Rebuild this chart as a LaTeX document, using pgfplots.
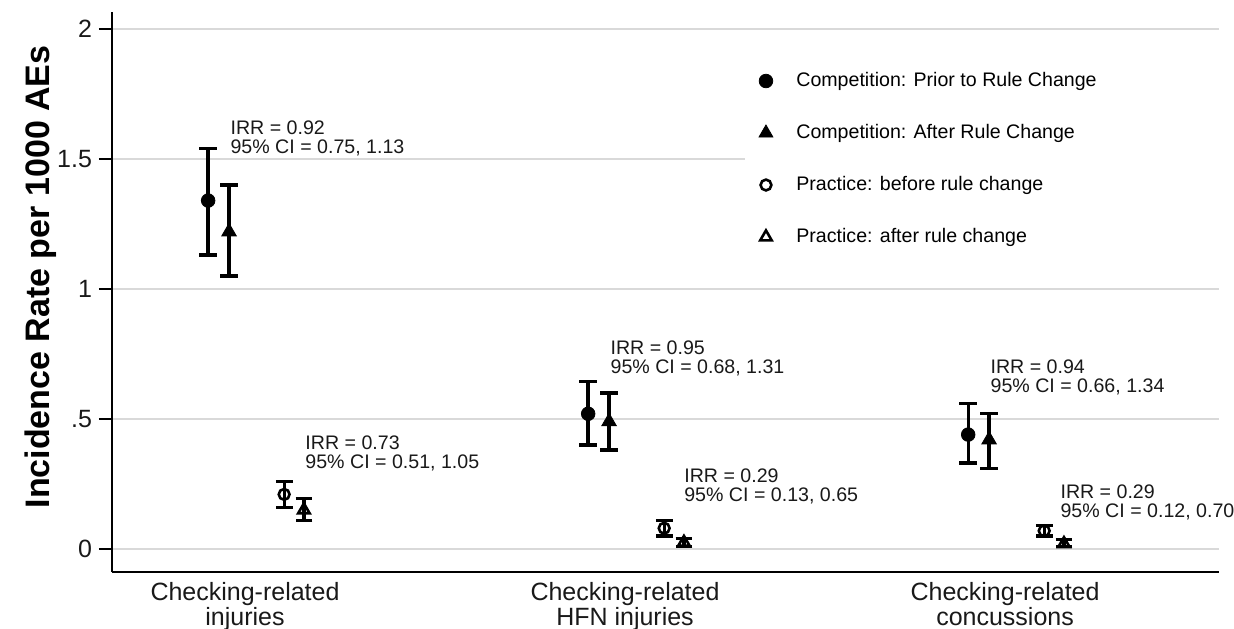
\documentclass[border=0pt]{standalone}
\usepackage{pgfplots}
\pgfplotsset{compat=1.18}
\usepackage{pgfplotstable}
\usepackage{fontspec}
\setmainfont{Liberation Sans}

\pgfplotstableread{
x y lo hi
0.903 1.34 1.13 1.54
1.903 0.52 0.40 0.645
2.903 0.44 0.33 0.56
}\comppre
\pgfplotstableread{
x y lo hi
0.958 1.22 1.05 1.40
1.958 0.49 0.38 0.60
2.958 0.42 0.31 0.52
}\comppost
\pgfplotstableread{
x y lo hi
1.103 0.21 0.16 0.26
2.103 0.08 0.05 0.11
3.103 0.07 0.05 0.09
}\pracpre
\pgfplotstableread{
x y lo hi
1.155 0.15 0.11 0.195
2.155 0.025 0.01 0.04
3.155 0.02 0.01 0.035
}\pracpost

\begin{document}
\begin{tikzpicture}
\begin{axis}[
 name=ax,
 scale only axis,
 width=553.5pt, height=280pt,
 xmin=0.65, xmax=3.563,
 ymin=-0.0885, ymax=2.065,
 axis x line=bottom, axis y line=left,
 axis line style={-, line width=1.2pt, black},
 xtick={1,2,3},
 xticklabels={{Checking-related\\injuries},{Checking-related\\HFN injuries},{Checking-related\\concussions}},
 xticklabel style={align=center, font=\fontsize{12.5}{11.2}\selectfont, text=black!90, yshift=5pt},
 xtick style={draw=none},
 ytick={0,0.5,1,1.5,2},
 yticklabels={0,.5,1,1.5,2},
 yticklabel style={font=\fontsize{12.5}{14}\selectfont, text=black!90},
 ytick style={line width=1pt, black},
 tick align=outside,
 major tick length=6.5pt,
 ymajorgrids,
 grid style={line width=0.9pt, gray!30},
 ylabel={Incidence Rate per 1000 AEs},
 ylabel style={at={(axis description cs:-0.064,0.527)}, anchor=center, font=\bfseries\fontsize{17}{20}\selectfont},
 clip=false,
 legend style={at={(axis description cs:0.581,0.90)}, anchor=north west, draw=none, fill=none, inner sep=0pt, row sep=13.4pt, font=\fontsize{9.8}{11}\selectfont, cells={anchor=west}},
 legend image code/.code={\path (0pt,0pt) (18pt,0pt); \draw[#1] plot coordinates {(5pt,0pt)};},
]
\fill[white] (axis cs:2.316,1.10) rectangle (axis cs:3.62,1.90);

\addplot[only marks, mark=*, black, mark size=3.4pt, forget plot,
  error bars/.cd, y dir=both, y explicit, error bar style={line width=1.7pt, black},
  error mark options={rotate=90, mark size=4.4pt, line width=1.7pt, black}]
  table[x=x, y=y, y error plus expr=\thisrow{hi}-\thisrow{y}, y error minus expr=\thisrow{y}-\thisrow{lo}] {\comppre};
\addplot[only marks, mark=triangle*, black, mark size=4.2pt, forget plot,
  error bars/.cd, y dir=both, y explicit, error bar style={line width=1.7pt, black},
  error mark options={rotate=90, mark size=4.4pt, line width=1.7pt, black}]
  table[x=x, y=y, y error plus expr=\thisrow{hi}-\thisrow{y}, y error minus expr=\thisrow{y}-\thisrow{lo}] {\comppost};
\addplot[only marks, mark=o, black, mark size=2.7pt, mark options={line width=1.3pt}, forget plot,
  error bars/.cd, y dir=both, y explicit, error bar style={line width=1.6pt, black},
  error mark options={rotate=90, mark size=4.2pt, line width=1.6pt, black}]
  table[x=x, y=y, y error plus expr=\thisrow{hi}-\thisrow{y}, y error minus expr=\thisrow{y}-\thisrow{lo}] {\pracpre};
\addplot[only marks, mark=triangle, black, mark size=3.3pt, mark options={line width=1.3pt}, forget plot,
  error bars/.cd, y dir=both, y explicit, error bar style={line width=1.6pt, black},
  error mark options={rotate=90, mark size=4.2pt, line width=1.6pt, black}]
  table[x=x, y=y, y error plus expr=\thisrow{hi}-\thisrow{y}, y error minus expr=\thisrow{y}-\thisrow{lo}] {\pracpost};

\addlegendimage{only marks, mark=*, black, mark size=3.4pt}
\addlegendentry{Competition: Prior to Rule Change}
\addlegendimage{only marks, mark=triangle*, black, mark size=4pt}
\addlegendentry{Competition: After Rule Change}
\addlegendimage{only marks, mark=o, black, mark size=2.7pt, mark options={line width=1.3pt}}
\addlegendentry{Practice: before rule change}
\addlegendimage{only marks, mark=triangle, black, mark size=3.3pt, mark options={line width=1.3pt}}
\addlegendentry{Practice: after rule change}

\begin{scope}[every node/.style={anchor=west, align=left, inner sep=0pt, font=\fontsize{9.8}{9.5}\selectfont, text=black!90}]
\node at (axis cs:0.961,1.577) {IRR = 0.92\\95\% CI = 0.75, 1.13};
\node at (axis cs:1.158,0.369) {IRR = 0.73\\95\% CI = 0.51, 1.05};
\node at (axis cs:1.961,0.733) {IRR = 0.95\\95\% CI = 0.68, 1.31};
\node at (axis cs:2.155,0.240) {IRR = 0.29\\95\% CI = 0.13, 0.65};
\node at (axis cs:2.961,0.660) {IRR = 0.94\\95\% CI = 0.66, 1.34};
\node at (axis cs:3.145,0.181) {IRR = 0.29\\95\% CI = 0.12, 0.70};
\end{scope}
\end{axis}
\pgfresetboundingbox
\path ([xshift=-56pt,yshift=-28pt]ax.south west) rectangle ([xshift=7.5pt,yshift=6pt]ax.north east);
\end{tikzpicture}
\end{document}
